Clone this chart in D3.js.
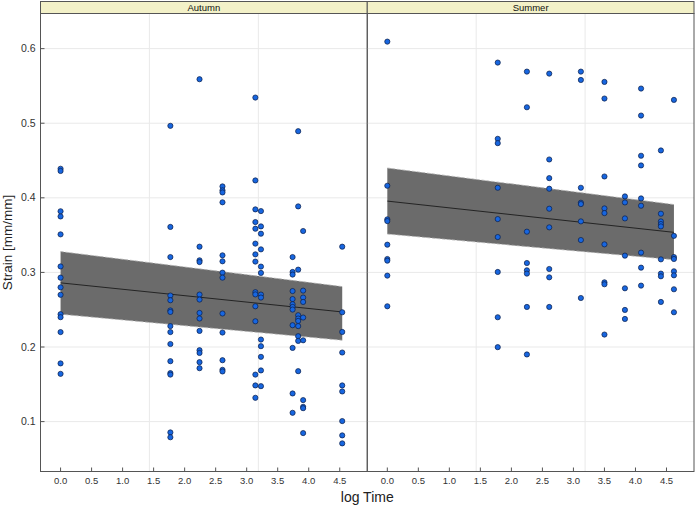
<!DOCTYPE html>
<html>
<head>
<meta charset="utf-8">
<script src="https://cdn.jsdelivr.net/npm/d3@7"></script>
<style>
  body { margin: 0; background: #fff; }
  svg { font-family: "Liberation Sans", Arial, sans-serif; }
  .tick-label { fill: #333; }
</style>
</head>
<body>
<div id="chart"></div>
<script>
// Data
// ---------------------------------------------------------------------------
var seasons = ["Autumn", "Summer"];

var autumnX = [0, 1.77, 2.24, 2.61, 3.14, 3.23, 3.74, 3.83, 3.91, 4.54];
var autumnY = [
  [0.439, 0.436, 0.382, 0.375, 0.351, 0.308, 0.293, 0.280, 0.270, 0.244, 0.240, 0.220, 0.178, 0.164],
  [0.4965, 0.361, 0.3206, 0.269, 0.2627, 0.249, 0.247, 0.228, 0.220, 0.204, 0.181, 0.165, 0.163, 0.0855, 0.079],
  [0.559, 0.3345, 0.3162, 0.3139, 0.2703, 0.2636, 0.2457, 0.2382, 0.2216, 0.1957, 0.192, 0.1797, 0.1716],
  [0.4153, 0.4100, 0.4072, 0.394, 0.3229, 0.3149, 0.2997, 0.293, 0.2449, 0.2194, 0.1823, 0.1694, 0.1672],
  [0.5344, 0.4233, 0.3845, 0.3675, 0.3586, 0.3386, 0.3242, 0.3145, 0.2735, 0.2705, 0.2546, 0.2345, 0.163, 0.1485, 0.1319],
  [0.3822, 0.3617, 0.3519, 0.3309, 0.3078, 0.2993, 0.2703, 0.2663, 0.21, 0.2011, 0.1868, 0.1686, 0.1475],
  [0.3206, 0.3006, 0.2971, 0.275, 0.2643, 0.2573, 0.2537, 0.2502, 0.2292, 0.1988, 0.1377, 0.1118],
  [0.4893, 0.3885, 0.3037, 0.2426, 0.2382, 0.235, 0.228, 0.2145, 0.2082, 0.1676],
  [0.3555, 0.2756, 0.2663, 0.2604, 0.2395, 0.209, 0.1288, 0.1198, 0.118, 0.0846],
  [0.3345, 0.2466, 0.2202, 0.1926, 0.1485, 0.1404, 0.1007, 0.0815, 0.0708]
];

var summerX = [0, 1.78, 2.25, 2.61, 3.12, 3.50, 3.83, 4.09, 4.41, 4.62];
var summerY = [
  [0.6094, 0.4162, 0.3711, 0.3688, 0.3372, 0.318, 0.3158, 0.2957, 0.2546],
  [0.5813, 0.4791, 0.4733, 0.4135, 0.3715, 0.3474, 0.3006, 0.2399, 0.1998],
  [0.5692, 0.5214, 0.3546, 0.3126, 0.3028, 0.2984, 0.2537, 0.19],
  [0.5665, 0.4514, 0.4264, 0.4122, 0.3854, 0.3604, 0.3046, 0.2934, 0.2537],
  [0.5692, 0.558, 0.4135, 0.3934, 0.3916, 0.3684, 0.3434, 0.2657],
  [0.5554, 0.5331, 0.4286, 0.3858, 0.3795, 0.3376, 0.2867, 0.2841, 0.2167],
  [0.4019, 0.3938, 0.3724, 0.3225, 0.2787, 0.2497, 0.2376],
  [0.5465, 0.5103, 0.4564, 0.4434, 0.3992, 0.3894, 0.3265, 0.3064, 0.2823],
  [0.4635, 0.3787, 0.3684, 0.3648, 0.3617, 0.3175, 0.2984, 0.2948, 0.2604],
  [0.5313, 0.349, 0.3206, 0.318, 0.3015, 0.2961, 0.2774, 0.2466]
];

// Fitted line and confidence band at the ends of each panel
var autumnBandX = [0, 4.54];
var autumnFit   = [0.286, 0.247];
var autumnLower = [0.244, 0.209];
var autumnUpper = [0.328, 0.281];

var summerBandX = [0, 4.62];
var summerFit   = [0.3956, 0.3537];
var summerLower = [0.3514, 0.317];
var summerUpper = [0.440, 0.391];

var xTicks = [0, 0.5, 1, 1.5, 2, 2.5, 3, 3.5, 4, 4.5];
var yTicks = [0.1, 0.2, 0.3, 0.4, 0.5, 0.6];

// Build panel tables
function points(xs, ys) {
  var out = [];
  xs.forEach(function(x, i) {
    ys[i].forEach(function(y) { out.push({ x: x, y: y }); });
  });
  return out;
}
function band(xs, fit, lo, hi) {
  return xs.map(function(x, i) { return { x: x, fit: fit[i], lo: lo[i], hi: hi[i] }; });
}

var panels = [
  { name: seasons[0], pts: points(autumnX, autumnY), band: band(autumnBandX, autumnFit, autumnLower, autumnUpper) },
  { name: seasons[1], pts: points(summerX, summerY), band: band(summerBandX, summerFit, summerLower, summerUpper) }
];

// Dimensions
// ---------------------------------------------------------------------------
var W = 697, H = 507;
var margin = { top: 13.5, right: 3, bottom: 35.5, left: 40.5 };
var stripH = 12;
var panelW = (W - margin.left - margin.right) / 2;
var panelH = H - margin.top - margin.bottom;

// lattice-style limits: data range extended by 7% on both sides
function extend(ext) {
  var d = (ext[1] - ext[0]) * 0.07;
  return [ext[0] - d, ext[1] + d];
}
var allPts = panels[0].pts.concat(panels[1].pts);
var xDomain = extend(d3.extent(allPts, function(d) { return d.x; }));
var yDomain = extend(d3.extent(allPts, function(d) { return d.y; }));

var y = d3.scaleLinear().domain(yDomain).range([panelH, 0]);

var svg = d3.select("#chart").append("svg")
    .attr("width", W)
    .attr("height", H);

var root = svg.append("g")
    .attr("transform", "translate(" + margin.left + "," + margin.top + ")");

panels.forEach(function(p, i) {
  var x = d3.scaleLinear().domain(xDomain).range([0, panelW]);

  var g = root.append("g")
      .attr("transform", "translate(" + (i * panelW) + ",0)");

  // Grid: horizontal at y ticks, vertical at panel thirds
  g.append("g").selectAll("line.h")
      .data(yTicks)
    .enter().append("line")
      .attr("x1", 0).attr("x2", panelW)
      .attr("y1", function(d) { return y(d); })
      .attr("y2", function(d) { return y(d); })
      .attr("stroke", "#e9e9e9");

  g.append("g").selectAll("line.v")
      .data([1, 2])
    .enter().append("line")
      .attr("x1", function(d) { return panelW * d / 3; })
      .attr("x2", function(d) { return panelW * d / 3; })
      .attr("y1", 0).attr("y2", panelH)
      .attr("stroke", "#e9e9e9");

  // Confidence band
  var area = d3.area()
      .x(function(d) { return x(d.x); })
      .y0(function(d) { return y(d.lo); })
      .y1(function(d) { return y(d.hi); });

  g.append("path")
      .datum(p.band)
      .attr("d", area)
      .attr("fill", "#6b6b6b");

  ["lo", "hi"].forEach(function(k) {
    g.append("path")
        .datum(p.band)
        .attr("d", d3.line()
          .x(function(d) { return x(d.x); })
          .y(function(d) { return y(d[k]); }))
        .attr("fill", "none")
        .attr("stroke", "#b5b5b5")
        .attr("stroke-width", 0.8)
        .attr("stroke-dasharray", "3,2");
  });

  g.append("path")
      .datum(p.band)
      .attr("d", d3.line()
        .x(function(d) { return x(d.x); })
        .y(function(d) { return y(d.fit); }))
      .attr("fill", "none")
      .attr("stroke", "#111")
      .attr("stroke-width", 0.8);

  // Points
  g.append("g").selectAll("circle")
      .data(p.pts)
    .enter().append("circle")
      .attr("cx", function(d) { return x(d.x); })
      .attr("cy", function(d) { return y(d.y); })
      .attr("r", 2.6)
      .attr("fill", "#1766e0")
      .attr("stroke", "#0b1d45")
      .attr("stroke-width", 0.7);

  // X axis ticks (inward) and labels
  var xt = g.append("g").attr("transform", "translate(0," + panelH + ")");
  xt.selectAll("line")
      .data(xTicks)
    .enter().append("line")
      .attr("x1", function(d) { return x(d); })
      .attr("x2", function(d) { return x(d); })
      .attr("y1", 0).attr("y2", -4)
      .attr("stroke", "#555");
  xt.selectAll("text")
      .data(xTicks)
    .enter().append("text")
      .attr("class", "tick-label")
      .attr("x", function(d) { return x(d); })
      .attr("y", 12.5)
      .attr("text-anchor", "middle")
      .attr("font-size", 9.5)
      .text(d3.format(".1f"));

  // Panel border
  g.append("rect")
      .attr("width", panelW)
      .attr("height", panelH)
      .attr("fill", "none")
      .attr("stroke", "#555");

  // Strip
  g.append("rect")
      .attr("y", -stripH)
      .attr("width", panelW)
      .attr("height", stripH)
      .attr("fill", "#f3f1c8")
      .attr("stroke", "#555");
  g.append("text")
      .attr("x", panelW / 2)
      .attr("y", -stripH / 2)
      .attr("dy", "0.35em")
      .attr("text-anchor", "middle")
      .attr("font-size", 9.5)
      .attr("fill", "#111")
      .text(p.name);
});

// Y axis labels (left panel only)
var yt = root.append("g");
yt.selectAll("line")
    .data(yTicks)
  .enter().append("line")
    .attr("x1", 0).attr("x2", 4)
    .attr("y1", function(d) { return y(d); })
    .attr("y2", function(d) { return y(d); })
    .attr("stroke", "#555");
yt.selectAll("text")
    .data(yTicks)
  .enter().append("text")
    .attr("class", "tick-label")
    .attr("x", -5)
    .attr("y", function(d) { return y(d); })
    .attr("dy", "0.35em")
    .attr("text-anchor", "end")
    .attr("font-size", 10.5)
    .text(d3.format(".1f"));

// Axis titles
svg.append("text")
    .attr("x", margin.left + panelW)
    .attr("y", H - 5)
    .attr("text-anchor", "middle")
    .attr("font-size", 14)
    .attr("fill", "#222")
    .text("log Time");

svg.append("text")
    .attr("transform", "translate(12," + (margin.top + panelH / 2) + ") rotate(-90)")
    .attr("text-anchor", "middle")
    .attr("font-size", 13.5)
    .attr("fill", "#222")
    .text("Strain [mm/mm]");
</script>
</body>
</html>
